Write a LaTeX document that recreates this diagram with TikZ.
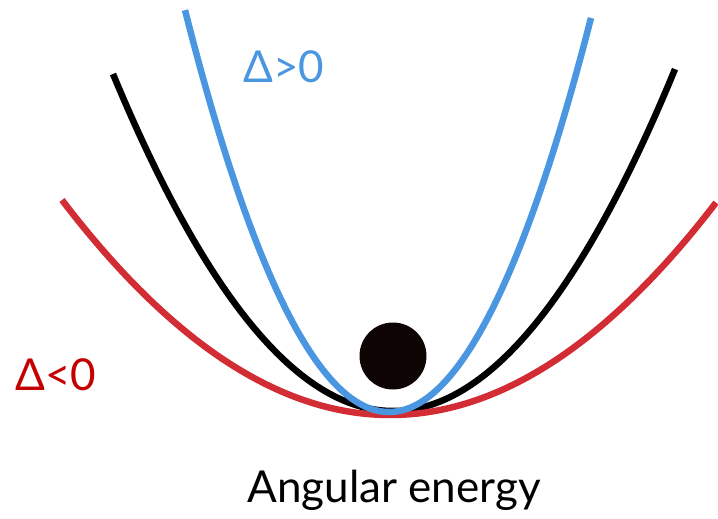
\documentclass[tikz,border=0pt]{standalone}
\usepackage{fontspec}
\setmainfont{Lato}
\usepackage{tikz}
\definecolor{wellblue}{RGB}{74,150,225}
\definecolor{wellred}{RGB}{210,45,52}
\definecolor{labelred}{RGB}{196,0,0}
\definecolor{balldark}{RGB}{14,4,4}
\tikzset{
  well/.style ={line width=6.5pt, line cap=butt, samples=120, smooth},
  lbl/.style  ={font=\fontsize{44}{46}\selectfont, inner sep=0pt},
  ball/.style ={circle, fill=balldark, inner sep=0pt, minimum size=67pt},
}

\begin{document}
\begin{tikzpicture}[x=1pt,y=-1pt]
\useasboundingbox (0,0) rectangle (718,519);

% potential wells
\draw[well,draw=black] plot[domain=113:675]
   (\x,{411-337*((\x-393)/280)*((\x-393)/280)});
\draw[well,draw=wellred] plot[domain=62:716]
   (\x,{415-215*((\x-390)/328)*((\x-390)/328)});
\draw[well,draw=wellblue] plot[domain=185:591]
   (\x,{412-398*((\x-389)/203)*((\x-389)/203)});

% ball at the bottom
\node[ball] (bead) at (393,356) {};

% labels
\node[lbl,text=wellblue] (dpos) at (284,67) {Δ>0};
\node[lbl,text=labelred] (dneg) at (56,375) {Δ<0};
\node[lbl] (axis) at (394,490) {Angular energy};
\end{tikzpicture}
\end{document}
